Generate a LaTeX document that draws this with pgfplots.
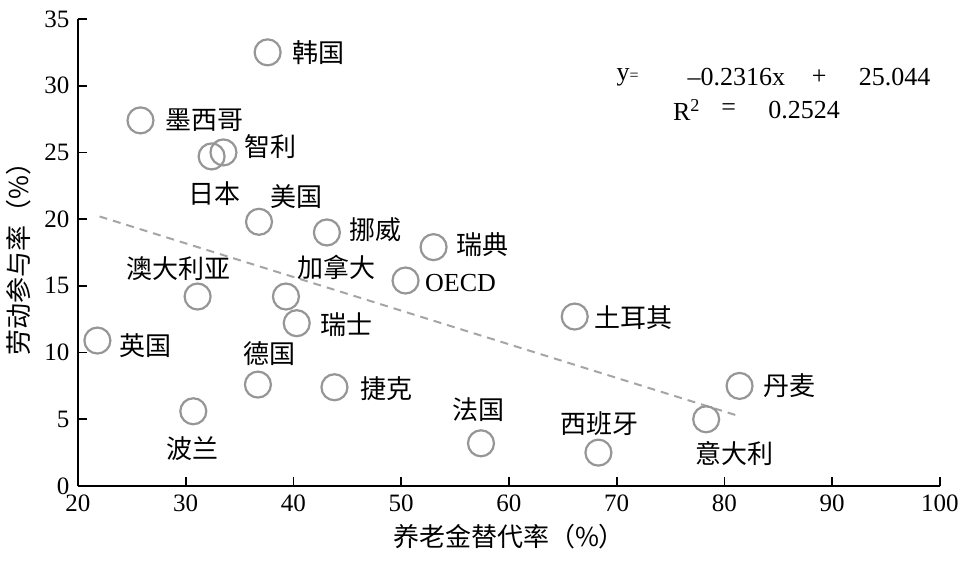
\documentclass[border=0pt]{standalone}
\usepackage{fontspec}
\setmainfont{Liberation Serif}
\newfontfamily\cjk{Noto Sans CJK SC}
\usepackage{pgfplots}
\pgfplotsset{compat=1.18}
\definecolor{mk}{RGB}{150,150,150}
\definecolor{tl}{RGB}{165,165,165}
\begin{document}
\fontsize{12.5}{15}\selectfont
\begin{tikzpicture}
\useasboundingbox (-39pt,-39.5pt) rectangle (441pt,243pt);
\begin{axis}[
  at={(0,0)}, anchor=south west,
  scale only axis, width=431pt, height=233.5pt,
  xmin=20, xmax=100, ymin=0, ymax=35,
  axis lines=left, axis line style={-, line width=0.8pt},
  xtick={20,30,...,100}, ytick={0,5,...,35},
  tick align=inside, major tick length=4.5pt,
  tick style={line width=0.8pt, black},
  /pgf/number format/assume math mode=true,
  ticklabel style={font=\fontsize{12.5}{15}\selectfont},
  xlabel={\cjk 养老金替代率（\%）},
  ylabel={\cjk 劳动参与率（\%）},
  label style={font=\fontsize{13}{15}\selectfont},
  xlabel style={yshift=2pt},
  ylabel style={yshift=-2pt},
  clip=false,
]
\addplot[only marks, mark=o, mark size=6.5pt, mark options={draw=mk, line width=1.1pt}] coordinates {
(37.6,32.5) (25.8,27.4) (32.4,24.7) (33.5,25.0) (36.8,19.8) (43.1,19.0)
(53.0,17.9) (50.4,15.4) (31.1,14.2) (39.3,14.2) (40.3,12.2) (66.1,12.7)
(21.8,10.9) (36.7,7.6) (43.8,7.4) (81.4,7.5) (30.7,5.6) (78.3,5.0)
(57.4,3.2) (68.3,2.5)
};
\addplot[tl, line width=1pt, dash pattern=on 4pt off 3pt] coordinates {(22,20.2) (81.5,5.2)};
\begin{scope}[every node/.style={font=\cjk\fontsize{13}{15}\selectfont, inner sep=0pt}]
\node at (axis cs:42.3,32.5) {韩国};
\node at (axis cs:31.7,27.4) {墨西哥};
\node at (axis cs:37.9,25.4) {智利};
\node at (axis cs:32.7,21.9) {日本};
\node at (axis cs:40.3,21.7) {美国};
\node at (axis cs:47.6,19.2) {挪威};
\node at (axis cs:57.5,18.1) {瑞典};
\node[font=\fontsize{13}{15}\selectfont] at (axis cs:55.5,15.2) {OECD};
\node at (axis cs:29.3,16.3) {澳大利亚};
\node at (axis cs:44.0,16.4) {加拿大};
\node at (axis cs:44.9,12.1) {瑞士};
\node at (axis cs:71.6,12.6) {土耳其};
\node at (axis cs:26.3,10.5) {英国};
\node at (axis cs:37.8,9.9) {德国};
\node at (axis cs:48.6,7.3) {捷克};
\node at (axis cs:86.0,7.5) {丹麦};
\node at (axis cs:30.6,2.8) {波兰};
\node at (axis cs:80.9,2.4) {意大利};
\node at (axis cs:57.2,5.7) {法国};
\node at (axis cs:68.4,4.7) {西班牙};
\end{scope}
\begin{scope}[every node/.style={font=\fontsize{13}{15}\selectfont, inner sep=0pt}]
\node at (axis cs:71.0,30.66) {y{\fontsize{8}{9}\selectfont=}};
\node at (axis cs:81.1,30.66) {\textendash0.2316x};
\node at (axis cs:88.8,30.66) {+};
\node at (axis cs:95.8,30.66) {25.044};
\node at (axis cs:76.5,28.2) {R\textsuperscript{2}};
\node at (axis cs:80.4,28.2) {=};
\node at (axis cs:87.4,28.2) {0.2524};
\end{scope}
\end{axis}
\end{tikzpicture}
\end{document}
